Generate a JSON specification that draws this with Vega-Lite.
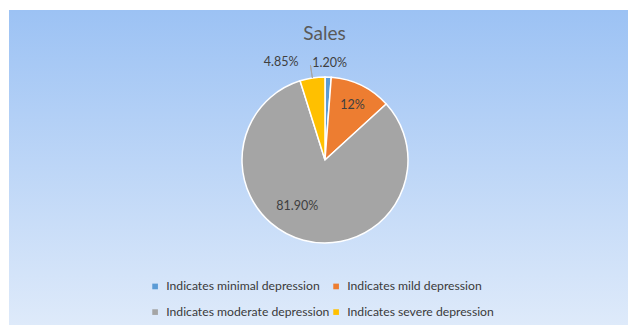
{
  "$schema": "https://vega.github.io/schema/vega-lite/v6.json",
  "width": 628,
  "height": 327,
  "autosize": {"type": "fit", "contains": "padding"},
  "padding": {"left": 9, "top": 10, "right": 0, "bottom": 2},
  "background": "white",
  "config": {"view": {"stroke": null}},
  "title": {"text": "Sales", "font": "Lato", "fontSize": 19, "fontWeight": "normal", "color": "#595959", "offset": -34, "dx": 6},
  "data": {"values": [
    {"category": "Indicates minimal depression", "value": 1.2, "label": "1.20%"},
    {"category": "Indicates mild depression", "value": 12, "label": "12%"},
    {"category": "Indicates moderate depression", "value": 81.9, "label": "81.90%"},
    {"category": "Indicates severe depression", "value": 4.85, "label": "4.85%"}
  ]},
  "transform": [
    {"window": [{"op": "row_number", "as": "k"}]}
  ],
  "layer": [
    {
      "mark": {"type": "rect", "fill": {"gradient": "linear", "x1": 0, "y1": 0, "x2": 0, "y2": 1, "stops": [{"offset": 0, "color": "#9CC2F4"}, {"offset": 1, "color": "#DEEAFA"}]}},
      "encoding": {}
    },
    {
      "mark": {"type": "arc", "outerRadius": 83, "stroke": "white", "strokeWidth": 1.5, "xOffset": 6.5, "yOffset": -7.5},
      "encoding": {
        "theta": {"field": "value", "type": "quantitative", "stack": true, "scale": {"nice": false}},
        "order": {"field": "k", "type": "quantitative"},
        "color": {"field": "category", "type": "nominal",
          "scale": {"domain": ["Indicates minimal depression", "Indicates mild depression", "Indicates moderate depression", "Indicates severe depression"], "range": ["#5B9BD5", "#ED7D31", "#A5A5A5", "#FFC000"]},
          "legend": {"title": null, "orient": "none", "direction": "horizontal", "legendX": 140, "legendY": 270, "columns": 2, "columnPadding": -5, "rowPadding": 13, "symbolType": "square", "symbolSize": 32, "symbolStrokeWidth": 0, "labelFont": "Lato", "labelFontSize": 12.2, "labelColor": "#3A3A3A", "labelOffset": 5, "labelLimit": 400, "padding": 0}
        }
      }
    },
    {
      "mark": {"type": "arc", "fill": null, "strokeWidth": 1, "innerRadius": 83, "outerRadius": 96, "padAngle": 0.4, "xOffset": 6.5, "yOffset": -7.5},
      "encoding": {
        "theta": {"field": "value", "type": "quantitative", "stack": true},
        "order": {"field": "k", "type": "quantitative"},
        "stroke": {"condition": {"test": "datum.category == 'Indicates severe depression'", "value": "#A6A6A6"}, "value": null}
      }
    },
    {
      "mark": {"type": "text", "radius": 97, "font": "Lato", "fontSize": 12.5, "color": "#404040", "xOffset": 7.5, "yOffset": -7.5},
      "encoding": {"theta": {"field": "value", "type": "quantitative", "stack": true}, "order": {"field": "k", "type": "quantitative"},
        "text": {"condition": {"test": "datum.category == 'Indicates minimal depression'", "field": "label"}, "value": ""}}
    },
    {
      "mark": {"type": "text", "radius": 63, "font": "Lato", "fontSize": 12.5, "color": "#404040", "xOffset": 6.5, "yOffset": -5.5},
      "encoding": {"theta": {"field": "value", "type": "quantitative", "stack": true}, "order": {"field": "k", "type": "quantitative"},
        "text": {"condition": {"test": "datum.category == 'Indicates mild depression'", "field": "label"}, "value": ""}}
    },
    {
      "mark": {"type": "text", "radius": 53, "font": "Lato", "fontSize": 12.5, "color": "#404040", "xOffset": -7.5, "yOffset": -13},
      "encoding": {"theta": {"field": "value", "type": "quantitative", "stack": true}, "order": {"field": "k", "type": "quantitative"},
        "text": {"condition": {"test": "datum.category == 'Indicates moderate depression'", "field": "label"}, "value": ""}}
    },
    {
      "mark": {"type": "text", "radius": 104, "font": "Lato", "fontSize": 12.5, "color": "#404040", "xOffset": -21.5, "yOffset": -2.5},
      "encoding": {"theta": {"field": "value", "type": "quantitative", "stack": true}, "order": {"field": "k", "type": "quantitative"},
        "text": {"condition": {"test": "datum.category == 'Indicates severe depression'", "field": "label"}, "value": ""}}
    }
  ]
}
